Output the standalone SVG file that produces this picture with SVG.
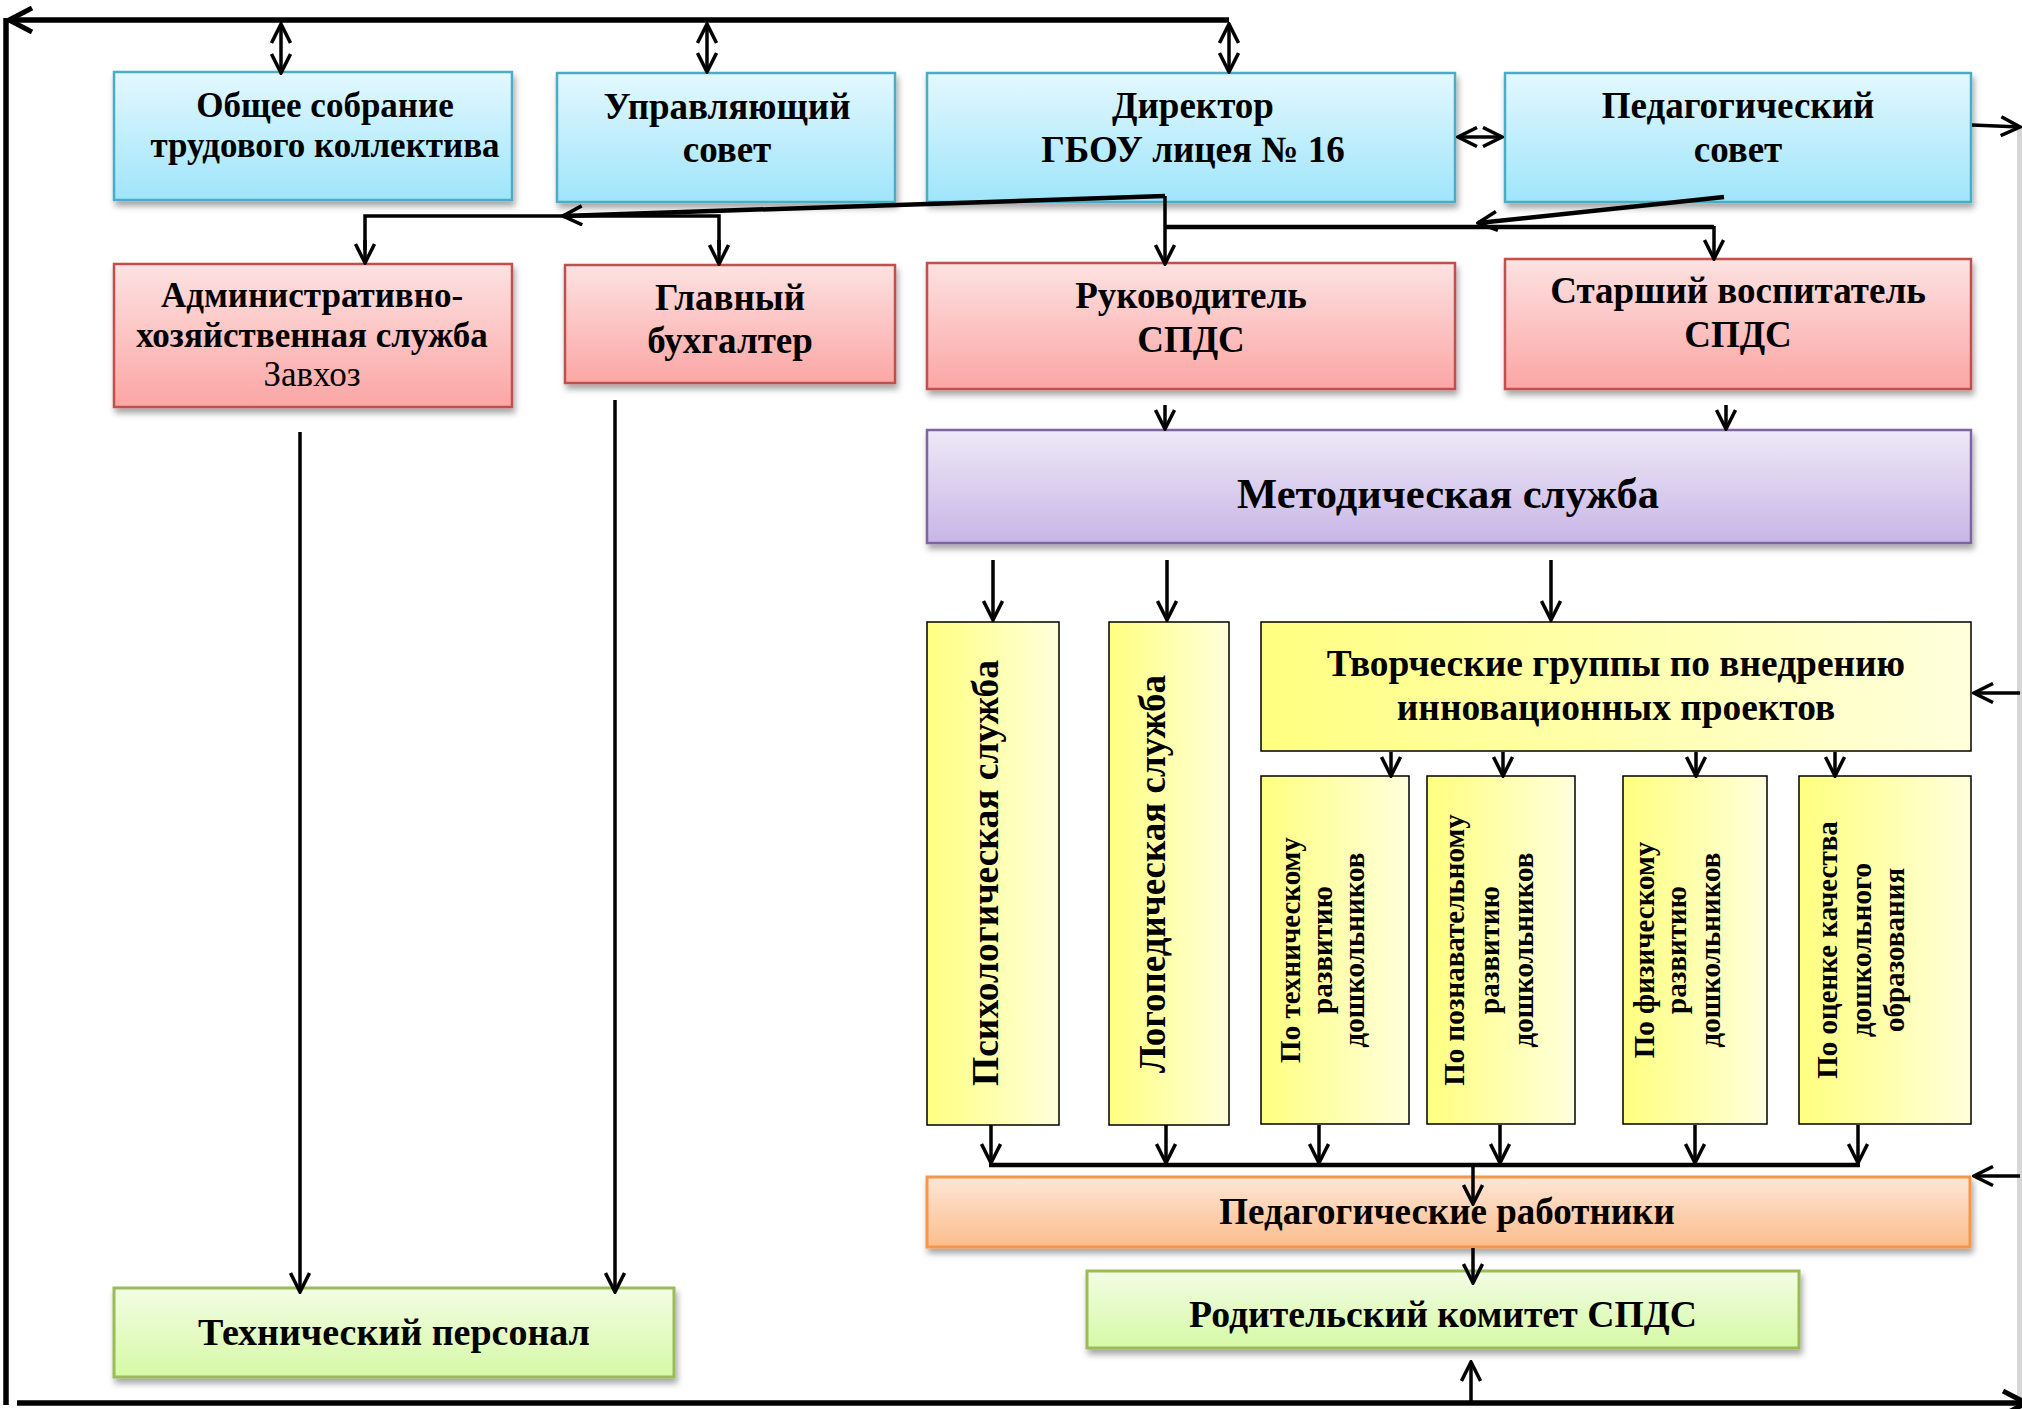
<svg xmlns="http://www.w3.org/2000/svg" width="2022" height="1409" viewBox="0 0 2022 1409">
<defs>
<linearGradient id="gBlue" x1="0" y1="0" x2="0" y2="1"><stop offset="0" stop-color="#e3f8fe"/><stop offset="1" stop-color="#9fe5fb"/></linearGradient>
<linearGradient id="gRed" x1="0" y1="0" x2="0" y2="1"><stop offset="0" stop-color="#fde2e2"/><stop offset="1" stop-color="#fba6a4"/></linearGradient>
<linearGradient id="gPurple" x1="0" y1="0" x2="0" y2="1"><stop offset="0" stop-color="#eee9f7"/><stop offset="1" stop-color="#c8b5e6"/></linearGradient>
<linearGradient id="gYellow" x1="0" y1="0" x2="1" y2="0"><stop offset="0" stop-color="#ffff80"/><stop offset="1" stop-color="#ffffdc"/></linearGradient>
<linearGradient id="gOrange" x1="0" y1="0" x2="0" y2="1"><stop offset="0" stop-color="#fee6d6"/><stop offset="1" stop-color="#fbbd8c"/></linearGradient>
<linearGradient id="gGreen" x1="0" y1="0" x2="0" y2="1"><stop offset="0" stop-color="#f2fde4"/><stop offset="1" stop-color="#d6f9a6"/></linearGradient>
<filter id="sh" x="-5%" y="-10%" width="115%" height="130%"><feDropShadow dx="2" dy="5" stdDeviation="3" flood-color="#000" flood-opacity="0.35"/></filter>
<marker id="a" viewBox="0 0 22 22" refX="20" refY="11" markerWidth="22" markerHeight="22" markerUnits="userSpaceOnUse" orient="auto-start-reverse"><path d="M1,1.5 L20,11 L1,20.5" fill="none" stroke="#000" stroke-width="3.5"/></marker>
<marker id="A" viewBox="0 0 28 28" refX="25" refY="14" markerWidth="28" markerHeight="28" markerUnits="userSpaceOnUse" orient="auto-start-reverse"><path d="M2,2 L25,14 L2,26" fill="none" stroke="#000" stroke-width="5"/></marker>
</defs>
<style>
.t{font-family:"Liberation Serif","Times New Roman",serif;font-weight:bold;font-size:37px;fill:#000;text-anchor:middle}
.r{font-weight:normal}
.s{font-size:29px}
.m{font-size:35px}
.blue{fill:url(#gBlue);stroke:#4bacc6;stroke-width:2.5;filter:url(#sh)}
.red{fill:url(#gRed);stroke:#c0504d;stroke-width:2.5;filter:url(#sh)}
.pur{fill:url(#gPurple);stroke:#8064a2;stroke-width:2.5;filter:url(#sh)}
.yel{fill:url(#gYellow);stroke:#000;stroke-width:1.5}
.org{fill:url(#gOrange);stroke:#f79646;stroke-width:3;filter:url(#sh)}
.grn{fill:url(#gGreen);stroke:#9bbb59;stroke-width:3;filter:url(#sh)}
.c{fill:none;stroke:#000;stroke-width:3.5}
.ca{fill:none;stroke:#000;stroke-width:3.5;marker-end:url(#a)}
.cd{fill:none;stroke:#000;stroke-width:3.5;marker-start:url(#a);marker-end:url(#a)}
.w{stroke-width:4.5}
.thick{fill:none;stroke:#000;stroke-width:5.5}
</style>

<rect x="2017" y="128" width="5" height="1272" fill="#d6d6d6"/>

<g id="n-obshee"><rect class="blue" x="114" y="72" width="398" height="128"/>
<text class="t m" x="325" y="117">Общее собрание</text><text class="t m" x="325" y="157">трудового коллектива</text></g>
<g id="n-upr"><rect class="blue" x="557" y="73" width="338" height="129"/>
<text class="t" x="727" y="119">Управляющий</text><text class="t" x="727" y="162">совет</text></g>
<g id="n-dir"><rect class="blue" x="927" y="73" width="528" height="129"/>
<text class="t" x="1193" y="118">Директор</text><text class="t" x="1193" y="162">ГБОУ лицея № 16</text></g>
<g id="n-pedsovet"><rect class="blue" x="1505" y="73" width="466" height="129"/>
<text class="t" x="1738" y="118">Педагогический</text><text class="t" x="1738" y="162">совет</text></g>

<g id="n-adm"><rect class="red" x="114" y="264" width="398" height="143"/>
<text class="t m" x="312" y="307">Административно-</text><text class="t m" x="312" y="347">хозяйственная служба</text><text class="t m r" x="312" y="386">Завхоз</text></g>
<g id="n-buh"><rect class="red" x="565" y="265" width="330" height="118"/>
<text class="t" x="730" y="310">Главный</text><text class="t" x="730" y="353">бухгалтер</text></g>
<g id="n-ruk"><rect class="red" x="927" y="263" width="528" height="126"/>
<text class="t" x="1191" y="308">Руководитель</text><text class="t" x="1191" y="352">СПДС</text></g>
<g id="n-star"><rect class="red" x="1505" y="259" width="466" height="130"/>
<text class="t" x="1738" y="303">Старший воспитатель</text><text class="t" x="1738" y="347">СПДС</text></g>

<g id="n-metod"><rect class="pur" x="927" y="430" width="1044" height="113"/>
<text class="t" x="1448" y="508" style="font-size:42.5px">Методическая служба</text></g>

<g id="n-psych"><rect class="yel" x="927" y="622" width="132" height="503"/>
<text class="t" transform="translate(998,873) rotate(-90)" style="font-size:37.5px">Психологическая служба</text></g>
<g id="n-logo"><rect class="yel" x="1109" y="622" width="120" height="503"/>
<text class="t" transform="translate(1165,874) rotate(-90)">Логопедическая служба</text></g>
<g id="n-tvor"><rect class="yel" x="1261" y="622" width="710" height="129"/>
<text class="t" x="1616" y="676" style="font-size:37.4px">Творческие группы по внедрению</text><text class="t" x="1616" y="720" style="font-size:37.4px">инновационных проектов</text></g>

<g id="n-tech"><rect class="yel" x="1261" y="776" width="148" height="348"/>
<g transform="translate(0,950) rotate(-90)"><text class="t s" x="0" y="1300">По техническому</text><text class="t s" x="0" y="1332">развитию</text><text class="t s" x="0" y="1364">дошкольников</text></g></g>
<g id="n-pozn"><rect class="yel" x="1427" y="776" width="148" height="348"/>
<g transform="translate(0,950) rotate(-90)"><text class="t s" x="0" y="1464">По познавательному</text><text class="t s" x="0" y="1499">развитию</text><text class="t s" x="0" y="1533">дошкольников</text></g></g>
<g id="n-fiz"><rect class="yel" x="1623" y="776" width="144" height="348"/>
<g transform="translate(0,950) rotate(-90)"><text class="t s" x="0" y="1654">По физическому</text><text class="t s" x="0" y="1686">развитию</text><text class="t s" x="0" y="1720">дошкольников</text></g></g>
<g id="n-ocen"><rect class="yel" x="1799" y="776" width="172" height="348"/>
<g transform="translate(0,950) rotate(-90)"><text class="t s" x="0" y="1837">По оценке качества</text><text class="t s" x="0" y="1871">дошкольного</text><text class="t s" x="0" y="1904">образования</text></g></g>

<g id="n-pedrab"><rect class="org" x="927" y="1177" width="1043" height="70"/>
<text class="t" x="1447" y="1224">Педагогические работники</text></g>
<g id="n-rodit"><rect class="grn" x="1087" y="1271" width="712" height="77"/>
<text class="t" x="1443" y="1327" style="font-size:37.7px">Родительский комитет СПДС</text></g>
<g id="n-techpers"><rect class="grn" x="114" y="1288" width="560" height="89"/>
<text class="t" x="394" y="1345" style="font-size:38px">Технический персонал</text></g>

<g id="connectors">
<path class="thick" d="M1229,20 L9,20" marker-end="url(#A)"/>
<path class="thick" d="M6,18 L6,1405"/>
<path class="thick" d="M17,1403 L2026,1403" marker-end="url(#A)"/>
<path class="cd" d="M281,24 L281,73"/>
<path class="cd" d="M707,24 L707,72"/>
<path class="cd" d="M1229,24 L1229,72"/>
<path class="cd" d="M1458,137 L1502,137"/>
<path class="ca" d="M1972,125 L2020,127"/>
<path class="ca" d="M2020,693 L1974,693"/>
<path class="ca" d="M2020,1176 L1974,1176"/>
<path class="ca" d="M1471,1402 L1471,1362"/>
<path class="ca w" d="M1165,196 L563,216"/>
<path class="ca" d="M1165,196 L1165,264"/>
<path class="c" d="M365,250 L365,216 L719,216 L719,250"/>
<path class="ca" d="M365,240 L365,263"/>
<path class="ca" d="M719,240 L719,264"/>
<path class="c w" d="M1165,227 L1714,227"/>
<path class="ca" d="M1714,226 L1714,259"/>
<path class="ca w" d="M1724,197 L1478,223"/>
<path class="ca" d="M1165,405 L1165,429"/>
<path class="ca" d="M1726,405 L1726,429"/>
<path class="ca" d="M993,560 L993,620"/>
<path class="ca" d="M1167,560 L1167,620"/>
<path class="ca" d="M1551,560 L1551,620"/>
<path class="ca" d="M1391,752 L1391,776"/>
<path class="ca" d="M1503,752 L1503,776"/>
<path class="ca" d="M1696,752 L1696,776"/>
<path class="ca" d="M1835,752 L1835,776"/>
<path class="ca" d="M991,1125 L991,1163"/>
<path class="ca" d="M1166,1125 L1166,1163"/>
<path class="ca" d="M1319,1125 L1319,1163"/>
<path class="ca" d="M1500,1125 L1500,1163"/>
<path class="ca" d="M1695,1125 L1695,1163"/>
<path class="ca" d="M1858,1125 L1858,1163"/>
<path class="c w" d="M989,1165 L1860,1165"/>
<path class="ca" d="M1473,1165 L1473,1204"/>
<path class="ca" d="M1473,1248 L1473,1283"/>
<path class="ca" d="M300,432 L300,1292"/>
<path class="ca" d="M615,400 L615,1292"/>
</g>
</svg>
